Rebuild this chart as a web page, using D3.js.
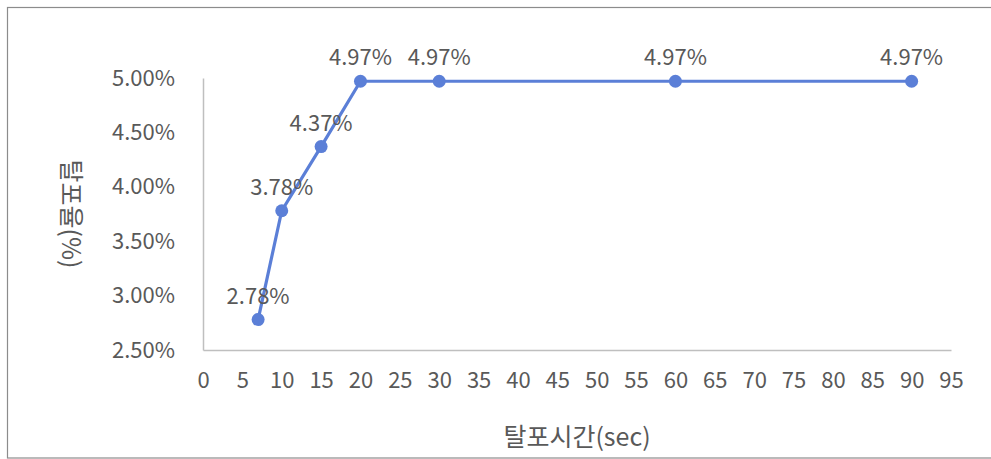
<!DOCTYPE html>
<html>
<head>
<meta charset="utf-8">
<script src="https://cdn.jsdelivr.net/npm/d3@7/dist/d3.min.js"></script>
<style>
  html, body { margin: 0; padding: 0; background: #fff; }
  svg { display: block; }
  text { font-family: "Noto Sans CJK KR", "Noto Sans", sans-serif; fill: #595959; }
</style>
</head>
<body>
<svg id="chart" width="991" height="459"></svg>
<script>
// Defoaming time (sec) vs. defoaming rate (%)
const times = [7, 10, 15, 20, 30, 60, 90];
const rates = [2.78, 3.78, 4.37, 4.97, 4.97, 4.97, 4.97];
const xTicks = d3.range(0, 96, 5);
const yTicks = [2.5, 3.0, 3.5, 4.0, 4.5, 5.0];
const xTitle = "탈포시간(sec)";
const yTitle = "탈포율(%)";

const svg = d3.select("#chart");
const margin = { left: 203, right: 40, top: 78, bottom: 109 };
const W = 991, H = 459;
const font = '"Noto Sans CJK KR", "Noto Sans", sans-serif';

const x = d3.scaleLinear().domain([0, 95]).range([margin.left, W - margin.right]);
const y = d3.scaleLinear().domain([2.5, 5.0]).range([H - margin.bottom, margin.top]);

// chart frame
svg.append("rect")
  .attr("x", 7.5).attr("y", 7.5)
  .attr("width", 995).attr("height", 450.5)
  .attr("fill", "none").attr("stroke", "#8c8c8c").attr("stroke-width", 1.2);

// x axis
const xAxis = svg.append("g")
  .attr("transform", `translate(0,${y(2.5)})`)
  .call(d3.axisBottom(x).tickValues(xTicks).tickSize(0).tickPadding(22).tickFormat(d3.format("d")));
xAxis.select(".domain").attr("stroke", "#bfbfbf").attr("stroke-width", 1.5);
xAxis.selectAll("text").style("font-size", "22px").attr("fill", "#595959").style("font-family", font);

// y axis
const yAxis = svg.append("g")
  .attr("transform", `translate(${x(0)},0)`)
  .call(d3.axisLeft(y).tickValues(yTicks).tickSize(0).tickPadding(28).tickFormat(d => d.toFixed(2) + "%"));
yAxis.select(".domain").attr("stroke", "#bfbfbf").attr("stroke-width", 1.5);
yAxis.selectAll("text").style("font-size", "22px").attr("fill", "#595959").style("font-family", font);

// axis titles
svg.append("text")
  .attr("x", (x(0) + x(95)) / 2).attr("y", 435)
  .attr("text-anchor", "middle").attr("dominant-baseline", "central")
  .style("font-size", "25px")
  .text(xTitle);

svg.append("text")
  .attr("transform", `translate(73,${(y(2.5) + y(5.0)) / 2}) rotate(90)`)
  .attr("text-anchor", "middle").attr("dominant-baseline", "central")
  .style("font-size", "25px")
  .text(yTitle);

const pts = times.map((t, i) => ({ t, r: rates[i] }));
const blue = "#5b7fd7";

svg.append("path")
  .datum(pts)
  .attr("fill", "none").attr("stroke", blue).attr("stroke-width", 3.2)
  .attr("stroke-linejoin", "round")
  .attr("d", d3.line().x(d => x(d.t)).y(d => y(d.r)));

svg.selectAll("circle.pt")
  .data(pts).enter().append("circle")
  .attr("class", "pt")
  .attr("cx", d => x(d.t)).attr("cy", d => y(d.r)).attr("r", 6.5)
  .attr("fill", blue);

// value labels
svg.selectAll("text.lbl")
  .data(pts).enter().append("text")
  .attr("class", "lbl")
  .attr("x", d => x(d.t)).attr("y", d => y(d.r) - 26)
  .attr("text-anchor", "middle").attr("dominant-baseline", "central")
  .style("font-size", "22px")
  .text(d => d.r.toFixed(2) + "%");
</script>
</body>
</html>
